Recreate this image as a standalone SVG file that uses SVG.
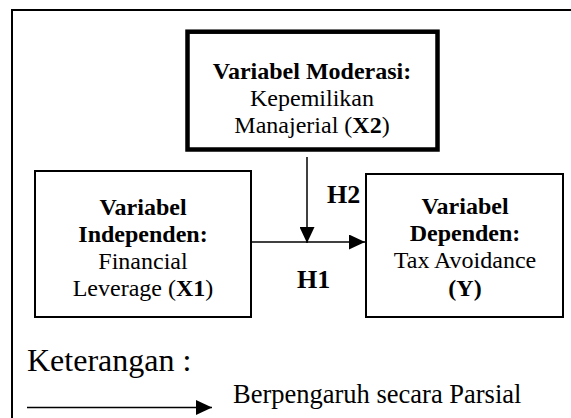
<svg xmlns="http://www.w3.org/2000/svg" width="571" height="418" viewBox="0 0 571 418">
<style>
text{font-family:"Liberation Serif","Times New Roman",serif;fill:#000}
.t{font-size:24px;text-anchor:middle}
.b{font-weight:bold}
.h{font-size:26px;font-weight:bold}
.box{fill:#fff;stroke:#000;stroke-width:2}
.con{stroke:#000;stroke-width:1.5;fill:none}
</style>
<defs>
<marker id="arr" markerUnits="userSpaceOnUse" markerWidth="16" markerHeight="15" refX="16" refY="7.5" orient="auto">
<path d="M0,0 L16,7.5 L0,15 Z" fill="#000"/>
</marker>
</defs>
<rect width="571" height="418" fill="#fff"/>
<rect id="frame" x="12" y="10" width="562" height="420" fill="none" stroke="#000" stroke-width="2"/>
<g id="moderasi">
<rect x="187.5" y="31.7" width="250" height="117.8" fill="#fff" stroke="#000" stroke-width="4.5"/>
<text class="t b" x="312" y="79">Variabel Moderasi:</text>
<text class="t" x="312" y="106">Kepemilikan</text>
<text class="t" x="312" y="133">Manajerial (<tspan class="b">X2</tspan>)</text>
</g>
<g id="independen">
<rect class="box" x="35" y="171" width="216" height="146"/>
<text class="t b" x="143" y="215">Variabel</text>
<text class="t b" x="143" y="242">Independen:</text>
<text class="t" x="143" y="269">Financial</text>
<text class="t" x="143" y="296">Leverage (<tspan class="b">X1</tspan>)</text>
</g>
<g id="dependen">
<rect class="box" x="366" y="174" width="197" height="143"/>
<text class="t b" x="465" y="214">Variabel</text>
<text class="t b" x="465" y="241">Dependen:</text>
<text class="t" x="465" y="268">Tax Avoidance</text>
<text class="t b" x="465" y="296">(Y)</text>
</g>
<g id="connectors">
<line class="con" x1="251" y1="242" x2="365" y2="242" marker-end="url(#arr)"/>
<line class="con" x1="307" y1="157" x2="307" y2="243" marker-end="url(#arr)"/>
<text class="h" x="327" y="203">H2</text>
<text class="h" x="297" y="288">H1</text>
</g>
<g id="legend">
<text x="27" y="371" font-size="32">Keterangan :</text>
<line class="con" x1="27" y1="407.5" x2="212" y2="407.5" marker-end="url(#arr)"/>
<text x="233" y="403" font-size="26.5">Berpengaruh secara Parsial</text>
</g>
</svg>
